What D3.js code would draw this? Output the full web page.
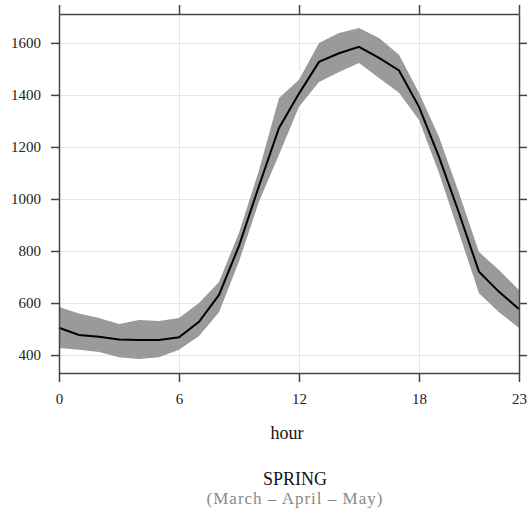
<!DOCTYPE html>
<html>
<head>
<meta charset="utf-8">
<script src="https://cdn.jsdelivr.net/npm/d3@7"></script>
<style>
  body { margin: 0; background: #fff; }
  svg text { font-family: "Liberation Serif", "DejaVu Serif", serif; }
</style>
</head>
<body>
<svg id="chart" width="531" height="512"></svg>
<script>
// ── Data ──────────────────────────────────────────────────────────────────────
const hours = d3.range(0, 24);
const meanLoad  = [505, 477, 470, 460, 458, 458, 468, 528, 631, 820, 1050, 1273,
                   1405, 1527, 1560, 1585, 1542, 1494, 1354, 1162, 946, 720, 643, 577];
const upperLoad = [585, 560, 542, 519, 535, 531, 542, 600, 681, 870, 1110, 1388,
                   1458, 1600, 1638, 1657, 1619, 1554, 1408, 1238, 1023, 796, 727, 650];
const lowerLoad = [427, 420, 412, 392, 385, 392, 420, 473, 565, 760, 990, 1170,
                   1354, 1450, 1488, 1523, 1465, 1408, 1304, 1100, 869, 638, 565, 504];
const xTicks = [0, 6, 12, 18, 23];
const yTicks = [400, 600, 800, 1000, 1200, 1400, 1600];

// ── Layout ────────────────────────────────────────────────────────────────────
const svg = d3.select('#chart');
const plotL = 59, plotR = 519, plotT = 14, plotB = 373;

const x = d3.scaleLinear().domain([0, 23]).range([plotL, plotR]);
const y = d3.scaleLinear().domain([331, 1711]).range([plotB, plotT]);

// grid
const grid = svg.append('g').attr('stroke', '#e6e6e6').attr('stroke-width', 1);
grid.selectAll('.gy').data(yTicks).join('line')
  .attr('x1', plotL).attr('x2', plotR)
  .attr('y1', d => Math.round(y(d)) + 0.5).attr('y2', d => Math.round(y(d)) + 0.5);
grid.selectAll('.gx').data(xTicks).join('line')
  .attr('y1', plotT).attr('y2', plotB)
  .attr('x1', d => Math.round(x(d)) + 0.5).attr('x2', d => Math.round(x(d)) + 0.5);

// band
const rows = hours.map((h, i) => ({ h, m: meanLoad[i], lo: lowerLoad[i], hi: upperLoad[i] }));
svg.append('path')
  .datum(rows)
  .attr('fill', '#9a9a9a')
  .attr('d', d3.area().x(d => x(d.h)).y0(d => y(d.lo)).y1(d => y(d.hi)));

// mean line
svg.append('path')
  .datum(rows)
  .attr('fill', 'none')
  .attr('stroke', '#000')
  .attr('stroke-width', 2)
  .attr('d', d3.line().x(d => x(d.h)).y(d => y(d.m)));

// ── Axes ──────────────────────────────────────────────────────────────────────
function styleAxis(g, showText) {
  g.select('.domain').attr('stroke', '#444').attr('stroke-width', 1.5);
  g.selectAll('.tick line').attr('stroke', '#444').attr('stroke-width', 1.5);
  g.selectAll('.tick text')
    .attr('fill', '#222')
    .style('font-size', '15px')
    .style('font-family', '"Liberation Serif", serif')
    .style('display', showText ? null : 'none');
}

const fmt = d3.format('d');
svg.append('g').attr('transform', `translate(0,${plotB})`)
  .call(d3.axisBottom(x).tickValues(xTicks).tickFormat(fmt).tickSize(9).tickSizeOuter(0).tickPadding(11))
  .call(g => styleAxis(g, true));
svg.append('g').attr('transform', `translate(0,${plotT})`)
  .call(d3.axisTop(x).tickValues(xTicks).tickSize(9).tickSizeOuter(0))
  .call(g => styleAxis(g, false));
svg.append('g').attr('transform', `translate(${plotL},0)`)
  .call(d3.axisLeft(y).tickValues(yTicks).tickFormat(fmt).tickSize(8).tickSizeOuter(0).tickPadding(10))
  .call(g => styleAxis(g, true));
svg.append('g').attr('transform', `translate(${plotR},0)`)
  .call(d3.axisRight(y).tickValues(yTicks).tickSize(8).tickSizeOuter(0))
  .call(g => styleAxis(g, false));

// ── Titles ────────────────────────────────────────────────────────────────────
svg.append('text')
  .attr('x', 287).attr('y', 439)
  .attr('text-anchor', 'middle')
  .attr('fill', '#111')
  .style('font-size', '18px')
  .text('hour');

svg.append('text')
  .attr('x', 295).attr('y', 485)
  .attr('text-anchor', 'middle')
  .attr('fill', '#111')
  .style('font-size', '18px')
  .text('SPRING');

svg.append('text')
  .attr('x', 295).attr('y', 504)
  .attr('text-anchor', 'middle')
  .attr('fill', '#8a8a8a')
  .style('font-size', '17px')
  .style('letter-spacing', '1px')
  .text('(March – April – May)');
</script>
</body>
</html>
